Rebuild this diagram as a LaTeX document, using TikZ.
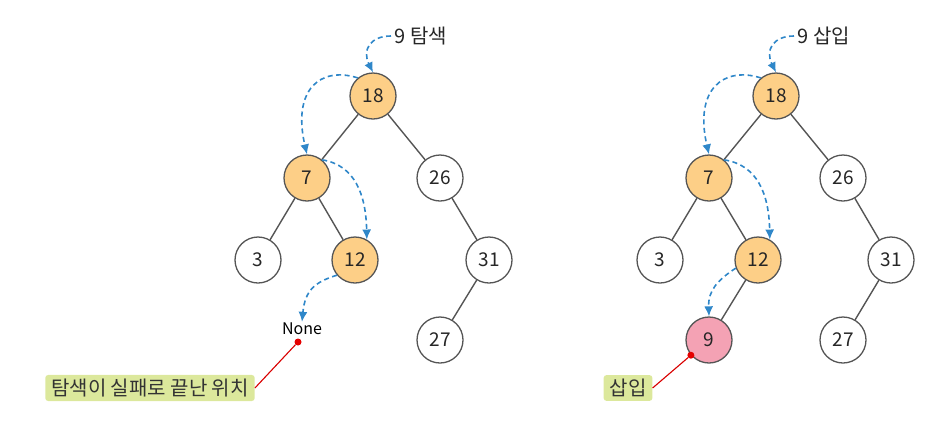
\documentclass[tikz,border=0pt]{standalone}
\usepackage{fontspec}
\setmainfont{Noto Sans CJK KR}
\usetikzlibrary{arrows.meta}
\definecolor{nodeorange}{HTML}{FDCF87}
\definecolor{nodepink}{HTML}{F4A2B4}
\definecolor{labelgreen}{HTML}{DCE89C}
\definecolor{arrowblue}{HTML}{2F87C9}
\definecolor{edgegray}{HTML}{555555}
\tikzset{
  tnode/.style={circle, draw=edgegray, line width=1.3pt, minimum size=46pt, inner sep=0pt, font=\fontsize{19}{19}\selectfont, text=black!85},
  visited/.style={tnode, fill=nodeorange},
  inserted/.style={tnode, fill=nodepink},
  plain/.style={tnode, fill=white},
  tedge/.style={draw=edgegray, line width=1.4pt},
  path/.style={draw=arrowblue, line width=1.6pt, dash pattern=on 5pt off 3.5pt, -{Latex[length=10pt,width=9pt]}},
  callout/.style={fill=labelgreen, rounded corners=3pt, inner xsep=6pt, inner ysep=4pt, font=\fontsize{20}{20}\selectfont, text=black!80},
  pointer/.style={draw=red!85!black, line width=1.1pt},
  reddot/.style={circle, fill=red!90!black, inner sep=0pt, minimum size=7pt},
  title/.style={font=\fontsize{20}{20}\selectfont, text=black!85, anchor=west}
}
\begin{document}
\begin{tikzpicture}[x=1pt,y=-1pt]
\useasboundingbox (0,0) rectangle (940,440);
% ---------- left tree: search ----------
\node[title] (t1) at (391,36) {9 탐색};
\node[visited] (a18) at (373,96) {18};
\node[visited] (a7) at (307,178) {7};
\node[plain] (a26) at (440,178) {26};
\node[plain] (a3) at (258,260) {3};
\node[visited] (a12) at (355,260) {12};
\node[plain] (a31) at (489,260) {31};
\node[plain] (a27) at (440,340) {27};
\node[font=\fontsize{16}{16}\selectfont, inner sep=1pt] (anone) at (302,329) {None};
\draw[tedge] (a18) -- (a7);
\draw[tedge] (a18) -- (a26);
\draw[tedge] (a7) -- (a3);
\draw[tedge] (a7) -- (a12);
\draw[tedge] (a26) -- (a31);
\draw[tedge] (a31) -- (a27);
\draw[path] (t1.west) .. controls (370,36) and (362,50) .. (a18.north);
\draw[path] (a18.130) .. controls (320,66) and (292,90) .. (a7.north);
\draw[path] (a7.50) .. controls (355,165) and (366,195) .. (a12.60);
\draw[path] (a12.220) .. controls (315,282) and (305,290) .. (anone.north);
\node[reddot] (d1) at (298,342) {};
\node[callout] (l1) at (150,388) {탐색이 실패로 끝난 위치};
\draw[pointer] (d1) -- (l1.east);
% ---------- right tree: insert ----------
\node[title] (t2) at (794,36) {9 삽입};
\node[visited] (b18) at (776,96) {18};
\node[visited] (b7) at (709,178) {7};
\node[plain] (b26) at (843,178) {26};
\node[plain] (b3) at (660,260) {3};
\node[visited] (b12) at (758,260) {12};
\node[plain] (b31) at (891,260) {31};
\node[plain] (b27) at (843,340) {27};
\node[inserted] (b9) at (709,340) {9};
\draw[tedge] (b18) -- (b7);
\draw[tedge] (b18) -- (b26);
\draw[tedge] (b7) -- (b3);
\draw[tedge] (b7) -- (b12);
\draw[tedge] (b26) -- (b31);
\draw[tedge] (b31) -- (b27);
\draw[tedge] (b12) -- (b9);
\draw[path] (t2.west) .. controls (773,36) and (765,50) .. (b18.north);
\draw[path] (b18.130) .. controls (723,66) and (694,90) .. (b7.north);
\draw[path] (b7.50) .. controls (758,165) and (769,195) .. (b12.60);
\draw[path] (b12.200) .. controls (718,280) and (708,290) .. (b9.north);
\node[reddot] (d2) at (b9.220) {};
\node[callout] (l2) at (628,388) {삽입};
\draw[pointer] (d2) -- (l2.east);
\end{tikzpicture}
\end{document}
